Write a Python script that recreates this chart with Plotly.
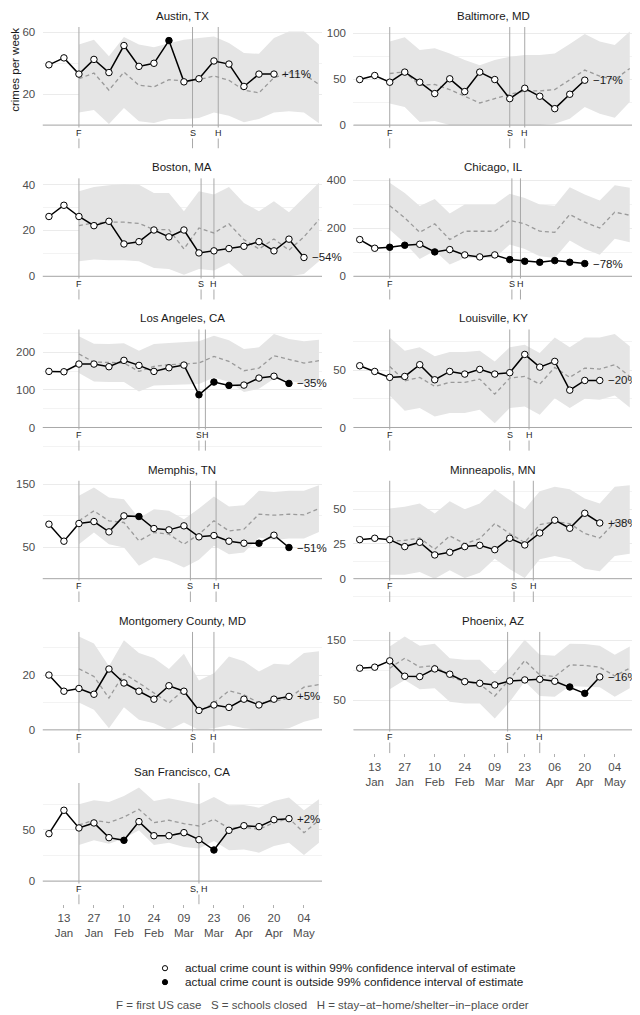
import plotly.graph_objects as go
import pandas as pd

# ---------------- data ----------------
CITIES = ["Austin, TX", "Baltimore, MD", "Boston, MA", "Chicago, IL",
          "Los Angeles, CA", "Louisville, KY", "Memphis, TN", "Minneapolis, MN",
          "Montgomery County, MD", "Phoenix, AZ", "San Francisco, CA"]

FIRST_WEEK = "2020-01-06"      # first weekly actual count
EST_START = "2020-01-20"       # first weekly estimate
EST_WEEKS = 17
FIRST_US_CASE = "2020-01-20"

ACTUAL = {
    "Austin, TX": [39, 43.5, 33, 42.5, 34, 51.5, 38, 40, 54.7, 28, 30, 41.5, 39.5, 25, 33, 33],
    "Baltimore, MD": [49.6, 54, 46.7, 57.7, 46.7, 34.3, 50.4, 36.5, 57.7, 49.6, 28.8, 40.1, 31.4, 17.9, 33.6, 48.9],
    "Boston, MA": [26.1, 31, 26.1, 22.1, 24, 14.1, 15.1, 20.2, 17.2, 20.2, 10.2, 11.1, 12.1, 13.1, 15.1, 11.1, 16.2, 8.2],
    "Chicago, IL": [152.8, 116.7, 120.8, 129.2, 133.3, 101.4, 111.1, 88.9, 80.6, 88.9, 69.4, 62.5, 58.3, 65.3, 58.3, 52.8],
    "Los Angeles, CA": [149.3, 148.4, 168.9, 168.9, 161.8, 178.7, 165.3, 149.3, 159.1, 166.2, 87.1, 120.9, 112, 112.9, 131.6, 136.5, 117.3],
    "Louisville, KY": [54.1, 49.1, 43.9, 44.7, 55, 41.8, 49.1, 46.8, 50.9, 46.8, 48, 64, 52.9, 57.9, 32.7, 41.2, 41.2],
    "Memphis, TN": [86.5, 59.5, 87.6, 90.7, 74.3, 99.7, 98.7, 79.6, 77.5, 83.9, 66.4, 68.5, 59.5, 56.3, 56.3, 69, 49.5],
    "Minneapolis, MN": [28.1, 29.1, 28.1, 23.1, 26.2, 17.1, 19, 23.1, 24, 20.9, 29.1, 24.3, 32.9, 42.1, 36.3, 47.1, 40.1],
    "Montgomery County, MD": [20, 14.1, 15.1, 13, 22.2, 17.1, 14.1, 11.2, 16.1, 14.1, 7.1, 9.1, 8.2, 11.2, 9.1, 11.2, 12.2],
    "Phoenix, AZ": [103.4, 105.1, 115.7, 89.9, 89.3, 102.2, 93.3, 80.9, 78.1, 75.3, 82, 83.7, 84.8, 81.5, 71.9, 61.2, 88.8],
    "San Francisco, CA": [46.4, 69.3, 52, 56.9, 42.5, 39.9, 58.2, 44.4, 44.4, 47.4, 40.5, 30.4, 49.7, 54.2, 53.3, 60.1, 61.1],
}

ESTIMATE = {
    "Austin, TX": [30, 33.7, 22.6, 34.3, 25.8, 24.7, 29.4, 28.6, 29.4, 31.8, 29, 22.6, 20.9, 30.7, 33.9, 32.8, 26.4],
    "Baltimore, MD": [56.2, 58, 43.4, 44.2, 38.7, 31.4, 24.1, 28.8, 33.6, 37.2, 37.2, 38.7, 48.9, 59.9, 53.3, 49.6, 61.7],
    "Boston, MA": [22.1, 23.3, 23.6, 23.6, 23.1, 20.4, 20.4, 11.9, 21.1, 18.9, 22.9, 16, 11.9, 16.3, 11.4, 17.2, 24.7],
    "Chicago, IL": [294, 243, 183, 218, 153, 187.5, 187.5, 187.5, 233, 218, 187.5, 183, 257, 225, 201, 267, 254],
    "Los Angeles, CA": [195.6, 174.2, 173.3, 171.6, 149.3, 162.7, 167.1, 168.9, 171.6, 189.3, 176, 151.1, 158.2, 191.1, 180.4, 171.6, 177.8],
    "Louisville, KY": [53.5, 40.9, 43.9, 36, 39.5, 39.5, 42.4, 29.2, 43.3, 44.7, 38, 52.6, 43.9, 52, 51.2, 55, 44.7],
    "Memphis, TN": [91.8, 107.7, 91.8, 89.2, 60, 73.3, 70.6, 54.8, 70.6, 91.8, 75.9, 78.6, 102.4, 100.8, 102.4, 101.3, 111.4],
    "Minneapolis, MN": [26.9, 27.6, 29.3, 21.2, 30.8, 25.2, 28.8, 39.7, 32.5, 26, 38.9, 40.9, 39.7, 32.5, 29.3, 40.4, 40.9],
    "Montgomery County, MD": [22.3, 19.5, 11.6, 20.5, 17.1, 13.4, 9.8, 14.6, 6.7, 9.8, 14.3, 12.8, 9.8, 10.4, 11.6, 15.6, 16.5],
    "Phoenix, AZ": [103.4, 120.2, 105.1, 107.9, 89.3, 80.9, 77, 56.7, 84.8, 116.3, 92.1, 89.3, 109, 107.9, 105.1, 90.4, 103.4],
    "San Francisco, CA": [54.9, 59.5, 57.2, 62.7, 70.3, 57.2, 59.5, 56.2, 53.9, 60.5, 51.6, 52.9, 50.7, 57.2, 61.4, 47.4, 59.5],
}

LOWER = {
    "Austin, TX": [8.2, 9.7, 0.7, 11, 2.5, 1.4, 4, 4, 4.6, 8.2, 6.1, 1.8, 4, 8.2, 8.9, 8.2, 1.2],
    "Baltimore, MD": [23.4, 19.7, 3.3, 4.4, 0, 0, 0, 0, 0, 0, 0, 1.5, 6.9, 19.7, 12.4, 8, 25.2],
    "Boston, MA": [6.6, 7.3, 7, 7, 6.6, 3.6, 3.2, 0.7, 3.2, 2.5, 5.8, 0, 0, 0, 0, 1, 6.6],
    "Chicago, IL": [194, 139, 72, 106, 49, 76, 76, 76, 132, 114, 83, 76, 149, 114, 90, 156, 142],
    "Los Angeles, CA": [144.9, 122.7, 120.9, 120.9, 96, 112, 112, 113.8, 115.6, 133.3, 120.9, 94.2, 103.1, 130, 125.3, 115.6, 120.9],
    "Louisville, KY": [28.1, 14.6, 17, 9.6, 12.6, 12.6, 15.5, 3.8, 17, 18.4, 11.1, 25.7, 17, 25.1, 24.3, 28.1, 17.5],
    "Memphis, TN": [54.8, 73.3, 54.8, 49.5, 20.4, 33.6, 28.3, 17.7, 29.9, 52.1, 38.9, 41.5, 65.3, 61.6, 63.8, 63.8, 74.3],
    "Minneapolis, MN": [2.9, 2.9, 4.8, 0, 6, 0.5, 4.3, 14.4, 6.7, 0.5, 13.9, 16.3, 13.9, 7.2, 5.3, 16.3, 18],
    "Montgomery County, MD": [10, 7.3, 0.6, 8.3, 3.7, 2.4, 0, 2.7, 0, 0.6, 1.8, 0.6, 0, 0, 0.6, 3, 4.3],
    "Phoenix, AZ": [68, 83.7, 68, 69.7, 47.2, 44.4, 44.4, 19.1, 47.2, 80.9, 56.7, 55.6, 73.6, 72.5, 71.3, 55.6, 69.7],
    "San Francisco, CA": [35.3, 39.9, 36.6, 41.8, 49.7, 35.3, 37.6, 33.3, 32, 39.2, 30.1, 31, 27.8, 34.3, 37.6, 25.5, 37.6],
}

UPPER = {
    "Austin, TX": [52.1, 55.3, 44.6, 57, 52.1, 50.4, 53, 55.3, 56.4, 57.4, 53.2, 46.7, 46.1, 56.4, 60.5, 60.5, 52.1],
    "Baltimore, MD": [90.9, 95.6, 81.8, 83.6, 78.1, 70.8, 65.3, 70.8, 74.5, 76.3, 76.3, 78.1, 88.3, 99.3, 90.9, 87.2, 101.8],
    "Boston, MA": [37.1, 39, 39.7, 40.3, 40, 36.4, 36.4, 28.4, 37.1, 35.7, 39, 32, 28.4, 32.8, 27.9, 34.2, 40.8],
    "Chicago, IL": [389, 347, 292, 322, 261, 299, 299, 299, 344, 326, 299, 294, 371, 340, 315, 379, 368],
    "Los Angeles, CA": [242.7, 223.1, 222.2, 224, 204.4, 222.2, 224.9, 227.6, 229.3, 244.4, 232, 208.9, 213.3, 248.9, 235.6, 229.3, 233.8],
    "Louisville, KY": [78.9, 67.3, 70.2, 62.3, 66.1, 66.1, 67.3, 57.9, 70.2, 72.5, 65.2, 78.9, 70.2, 78.9, 78.9, 81.9, 71.1],
    "Memphis, TN": [131.5, 144.7, 128.8, 126.2, 96, 110.3, 107.7, 94.4, 111.4, 130.4, 114.6, 116.7, 139.4, 137.8, 139.4, 139.4, 148.4],
    "Minneapolis, MN": [50.5, 51.7, 54.1, 46.9, 55.8, 50, 54.1, 64.4, 56.5, 50, 63, 66.1, 64.4, 57.7, 54.1, 66.1, 67.3],
    "Montgomery County, MD": [34.1, 31.5, 23.2, 32.7, 28, 26.2, 22.2, 27.8, 18, 20.7, 26.8, 25, 21.3, 24.1, 23.8, 28, 28.7],
    "Phoenix, AZ": [139.9, 156.7, 141, 144.4, 120.2, 117.4, 117.4, 93.8, 120.2, 151.1, 125.8, 124.2, 144.4, 143.8, 141, 125.8, 139.9],
    "San Francisco, CA": [75.2, 79.1, 77.5, 83.3, 91.5, 78.4, 81, 77.8, 75.2, 82.4, 74.2, 74.5, 71.9, 78.4, 81.7, 69.3, 80.1],
}

CHANGE_LABELS = ["+11%", "\u221217%", "\u221254%", "\u221278%", "\u221235%", "\u221220%",
                 "\u221251%", "+38%", "+5%", "\u221216%", "+2%"]

SCHOOLS_CLOSED = ["2020-03-13", "2020-03-16", "2020-03-17", "2020-03-17", "2020-03-16", "2020-03-16",
                  "2020-03-12", "2020-03-18", "2020-03-13", "2020-03-15", "2020-03-16"]
STAY_HOME = ["2020-03-25", "2020-03-23", "2020-03-23", "2020-03-21", "2020-03-19", "2020-03-25",
             "2020-03-24", "2020-03-27", "2020-03-23", "2020-03-30", "2020-03-16"]

Y_TICKS = [[20, 60], [0, 50, 100], [0, 20, 40], [0, 200, 400], [0, 100, 200], [0, 50],
           [50, 150], [0, 25, 50], [0, 20], [50, 150], [0, 50]]

X_TICK_DATES = ["2020-01-13", "2020-01-27", "2020-02-10", "2020-02-24", "2020-03-09",
                "2020-03-23", "2020-04-06", "2020-04-20", "2020-05-04"]
X_TICK_TEXT = ["13<br>Jan", "27<br>Jan", "10<br>Feb", "24<br>Feb", "09<br>Mar",
               "23<br>Mar", "06<br>Apr", "20<br>Apr", "04<br>May"]

LEGEND_TEXT = ["actual crime count is within 99% confidence interval of estimate",
               "actual crime count is outside 99% confidence interval of estimate"]
CAPTION = ("F = first US case\u00a0\u00a0\u00a0S = schools closed\u00a0\u00a0\u00a0"
           "H = stay\u2212at\u2212home/shelter\u2212in\u2212place order")

# ---------------- layout constants ----------------
# The page body has an 8px default margin, so the figure is 8px smaller
# and all target pixel positions are shifted by that offset.
PAGE_OFF = 8
W, H = 640 - PAGE_OFF, 1015 - PAGE_OFF
FONT = "Liberation Sans, Arial, Helvetica, sans-serif"
COLS = [(42.5, 322.0), (353.3, 632.8)]
ROW_TOP0, ROW_PITCH, PANEL_H = 23.0, 151.8, 122.0
X_RANGE = ["2020-01-03", "2020-05-12 10:00"]
RIBBON = "#e5e5e5"
EVENT_COLOR = "#a8a8a8"
GRID = "#ebebeb"


def px_x(px):
    return (px - PAGE_OFF) / W


def px_y(py):
    return 1 - (py - PAGE_OFF) / H


fig = go.Figure()
annotations = []
shapes = []
layout = {}

est_dates = pd.date_range(EST_START, periods=EST_WEEKS, freq="7D")
offset = (pd.Timestamp(EST_START) - pd.Timestamp(FIRST_WEEK)).days // 7

for i, city in enumerate(CITIES):
    n = i + 1
    xs = "x" if n == 1 else f"x{n}"
    ys = "y" if n == 1 else f"y{n}"
    row, col = divmod(i, 2)
    x0, x1 = COLS[col]
    top = ROW_TOP0 + row * ROW_PITCH
    xdom = [px_x(x0), px_x(x1)]
    ydom = [px_y(top + PANEL_H), px_y(top)]

    act = ACTUAL[city]
    est, lo, hi = ESTIMATE[city], LOWER[city], UPPER[city]
    act_dates = pd.date_range(FIRST_WEEK, periods=len(act), freq="7D")

    ymax = max(max(hi), max(act))
    yrange = [-0.25 * ymax, 1.05 * ymax]

    # ribbon
    fig.add_trace(go.Scatter(
        x=list(est_dates) + list(est_dates[::-1]), y=list(hi) + list(lo[::-1]),
        fill="toself", fillcolor=RIBBON, line=dict(width=0), mode="lines",
        hoverinfo="skip", showlegend=False, xaxis=xs, yaxis=ys))

    # zero line
    fig.add_trace(go.Scatter(
        x=X_RANGE, y=[0, 0], mode="lines", line=dict(color=EVENT_COLOR, width=1),
        hoverinfo="skip", showlegend=False, xaxis=xs, yaxis=ys))

    # event lines
    events = [(FIRST_US_CASE, "F")]
    if SCHOOLS_CLOSED[i] == STAY_HOME[i]:
        events.append((SCHOOLS_CLOSED[i], "S, H"))
    else:
        events += [(SCHOOLS_CLOSED[i], "S"), (STAY_HOME[i], "H")]
    for d, lab in events:
        fig.add_trace(go.Scatter(
            x=[d, d], y=yrange, mode="lines", line=dict(color=EVENT_COLOR, width=1),
            hoverinfo="skip", showlegend=False, xaxis=xs, yaxis=ys))
        annotations.append(dict(
            x=d, y=0, xref=xs, yref=ys, text=lab, showarrow=False,
            xanchor="center", yanchor="top", yshift=-1.5, bgcolor="white", borderpad=0,
            font=dict(family=FONT, size=9, color="#262626")))

    # estimate
    fig.add_trace(go.Scatter(
        x=est_dates, y=est, mode="lines",
        line=dict(color="#9a9a9a", width=1.3, dash="4px,3px"),
        hoverinfo="skip", showlegend=False, xaxis=xs, yaxis=ys))

    # actual
    fills = []
    for k, v in enumerate(act):
        j = k - offset
        outside = 0 <= j < len(lo) and (v < lo[j] or v > hi[j])
        fills.append("black" if outside else "white")
    fig.add_trace(go.Scatter(
        x=act_dates, y=act, mode="lines+markers",
        line=dict(color="black", width=1.5),
        marker=dict(size=6.5, color=fills, line=dict(color="black", width=1)),
        hoverinfo="skip", showlegend=False, xaxis=xs, yaxis=ys, cliponaxis=False))

    annotations.append(dict(
        x=act_dates[-1], y=act[-1], xref=xs, yref=ys, text=CHANGE_LABELS[i],
        showarrow=False, xanchor="left", yanchor="middle", xshift=6,
        font=dict(family=FONT, size=11.5, color="#1a1a1a")))

    # title
    annotations.append(dict(
        x=(xdom[0] + xdom[1]) / 2, y=px_y(top - 11), xref="paper", yref="paper",
        text=city, showarrow=False, xanchor="center", yanchor="middle",
        font=dict(family=FONT, size=11.5, color="#1a1a1a")))

    # axes
    ticks = Y_TICKS[i]
    step = ticks[1] - ticks[0]
    minor = []
    v = ticks[0] - step / 2
    while v <= yrange[1]:
        if v >= yrange[0] and v not in ticks:
            minor.append(v)
        v += step / 2
    bottom = i in (9, 10)
    layout["xaxis" if n == 1 else f"xaxis{n}"] = dict(
        domain=xdom, range=X_RANGE, type="date", anchor=ys,
        showgrid=False, zeroline=False, showline=False,
        showticklabels=bottom, tickvals=X_TICK_DATES, ticktext=X_TICK_TEXT,
        ticks="outside" if bottom else "", ticklen=3, tickwidth=1, tickcolor="#b0b0b0",
        tickfont=dict(family=FONT, size=11.5, color="#4d4d4d"), fixedrange=True)
    layout["yaxis" if n == 1 else f"yaxis{n}"] = dict(
        domain=ydom, range=yrange, anchor=xs,
        tickvals=ticks, showgrid=True, gridcolor=GRID, gridwidth=1,
        zeroline=False, showline=False,
        ticks="outside", ticklen=4, tickcolor="rgba(0,0,0,0)",
        tickfont=dict(family=FONT, size=11.5, color="#4d4d4d"),
        minor=dict(tickmode="array", tickvals=minor, showgrid=True,
                   gridcolor="#f3f3f3", gridwidth=0.6, ticks=""),
        fixedrange=True)

# y-axis title (kept inside the visible page area)
annotations.append(dict(
    x=px_x(15), y=px_y(66), xref="paper", yref="paper", text="crimes per week",
    textangle=-90, showarrow=False, xanchor="center", yanchor="middle",
    font=dict(family=FONT, size=11.5, color="#1a1a1a")))

# legend
for k, (txt, fillc) in enumerate(zip(LEGEND_TEXT, ["white", "black"])):
    ypx = 968 + 14 * k
    shapes.append(dict(
        type="circle", xref="paper", yref="paper", xsizemode="pixel", ysizemode="pixel",
        xanchor=px_x(165), yanchor=px_y(ypx), x0=-2.6, x1=2.6, y0=-2.6, y1=2.6,
        line=dict(color="black", width=1), fillcolor=fillc))
    annotations.append(dict(
        x=px_x(183), y=px_y(ypx), xref="paper", yref="paper", text=txt,
        showarrow=False, xanchor="left", yanchor="middle",
        font=dict(family=FONT, size=11.8, color="#1a1a1a")))

annotations.append(dict(
    x=px_x(322), y=px_y(1005), xref="paper", yref="paper", text=CAPTION,
    showarrow=False, xanchor="center", yanchor="middle",
    font=dict(family=FONT, size=11.5, color="#4d4d4d")))

fig.update_layout(
    width=W, height=H, margin=dict(l=0, r=0, t=0, b=0),
    paper_bgcolor="white", plot_bgcolor="white", showlegend=False,
    annotations=annotations, shapes=shapes, font=dict(family=FONT), **layout)

fig.write_html("out.html")
